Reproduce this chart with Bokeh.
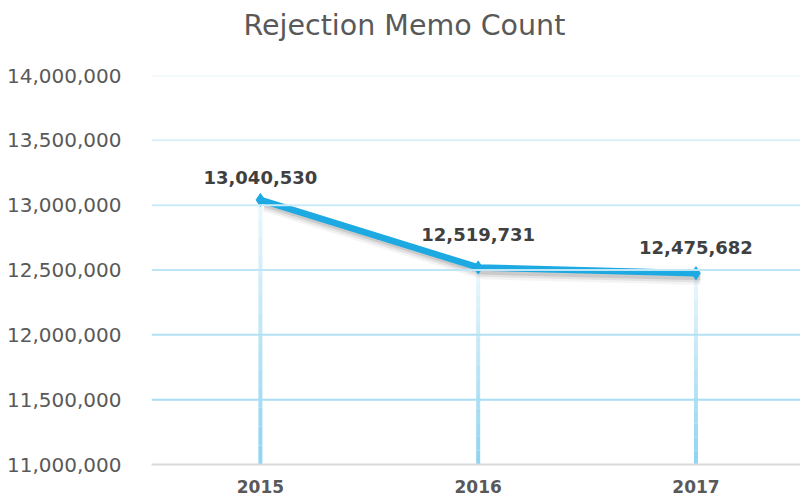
from bokeh.plotting import figure
from bokeh.models import ColumnDataSource, Range1d, FixedTicker, Span, NumeralTickFormatter, Title
from bokeh.transform import dodge
from bokeh.core.properties import value
from bokeh.embed import file_html
from bokeh.resources import INLINE

title_text = "Rejection Memo Count"
years = ["2015", "2016", "2017"]
counts = [13040530, 12519731, 12475682]
y_ticks = [11000000, 11500000, 12000000, 12500000, 13000000, 13500000, 14000000]
labels = ["13,040,530", "12,519,731", "12,475,682"]
label_dy = [-16, -26, -19]  # style: pixel lift of each data label

FONT = "DejaVu Sans"
xs = list(range(len(years)))
src = ColumnDataSource(dict(x=xs, y=counts, lab=labels, dy=label_dy))

p = figure(width=800, height=503, output_backend="svg", toolbar_location=None,
           x_range=Range1d(-0.5, 2.48), y_range=Range1d(y_ticks[0], y_ticks[-1]),
           min_border_left=151, min_border_right=0, min_border_bottom=39, min_border_top=0)
p.outline_line_color = None
p.xgrid.visible = False
p.ygrid.visible = False

p.title.text = ""
p.title.standoff = 0
# spacer (closest to frame) then the visible title above it
p.add_layout(Title(text=".", text_font_size="10px", text_color="white", standoff=18), "above")
p.add_layout(Title(text=title_text, align="left", offset=92, text_font=FONT,
                   text_font_size="28.5px", text_font_style="normal",
                   text_color="#595959", standoff=12), "above")

# graded gridlines
grid_cols = ["#A9DDF3", "#B3E1F4", "#BEE6F6", "#CBEBF8", "#DAF1FA", "#EBF7FC"]
for t, c in zip(y_ticks[1:], grid_cols):
    p.add_layout(Span(location=t, dimension="width", line_color=c, line_width=2))

# drop lines with gradient (light at top, bluer at bottom)
N = 14
base = y_ticks[0]
for k in range(N):
    seg_top = [v - (v - base) * k / N for v in counts]
    seg_bot = [v - (v - base) * (k + 1) / N for v in counts]
    p.segment(x0=xs, y0=seg_top, x1=xs, y1=seg_bot, line_color="#92D5F0",
              line_width=4, line_alpha=0.15 + 0.85 * (k + 1) / N)

# shadow
for w, a, dy in [(12, 0.06, -45000), (9, 0.10, -38000), (6, 0.15, -32000)]:
    p.line(x=dodge("x", 0.02, range=p.x_range), y=dodge("y", dy, range=p.y_range),
           source=src, line_color="#404040", line_width=w, line_alpha=a, line_join="round")

p.line(x="x", y="y", source=src, line_color="#1DA9E1", line_width=6.5, line_join="round")
p.scatter(x="x", y="y", source=src, marker="diamond", size=13, fill_color="#1DA9E1",
          line_color="#1DA9E1")

p.text(x="x", y="y", text="lab", source=src, text_font=value(FONT), text_font_size="18px",
       text_font_style="bold", text_color="#404040", text_align="center",
       text_baseline="bottom", y_offset="dy")

p.yaxis.ticker = FixedTicker(ticks=y_ticks)
p.yaxis.formatter = NumeralTickFormatter(format="0,0")
p.yaxis.axis_line_color = None
p.yaxis.major_tick_line_color = None
p.yaxis.minor_tick_line_color = None
p.yaxis.major_tick_out = 0
p.yaxis.major_tick_in = 0
p.yaxis.major_label_standoff = 30
p.yaxis.major_label_text_font = FONT
p.yaxis.major_label_text_font_size = "20px"
p.yaxis.major_label_text_color = "#595959"

p.xaxis.ticker = FixedTicker(ticks=xs)
p.xaxis.major_label_overrides = {i: y for i, y in zip(xs, years)}
p.xaxis.axis_line_color = "#D9D9D9"
p.xaxis.axis_line_width = 2
p.xaxis.major_tick_line_color = None
p.xaxis.minor_tick_line_color = None
p.xaxis.major_tick_out = 0
p.xaxis.major_tick_in = 0
p.xaxis.axis_label_standoff = 0
p.xaxis.major_label_standoff = 15
p.xaxis.major_label_text_font = FONT
p.xaxis.major_label_text_font_size = "17px"
p.xaxis.major_label_text_font_style = "bold"
p.xaxis.major_label_text_color = "#595959"

open("out.html", "w").write(file_html(p, INLINE))
